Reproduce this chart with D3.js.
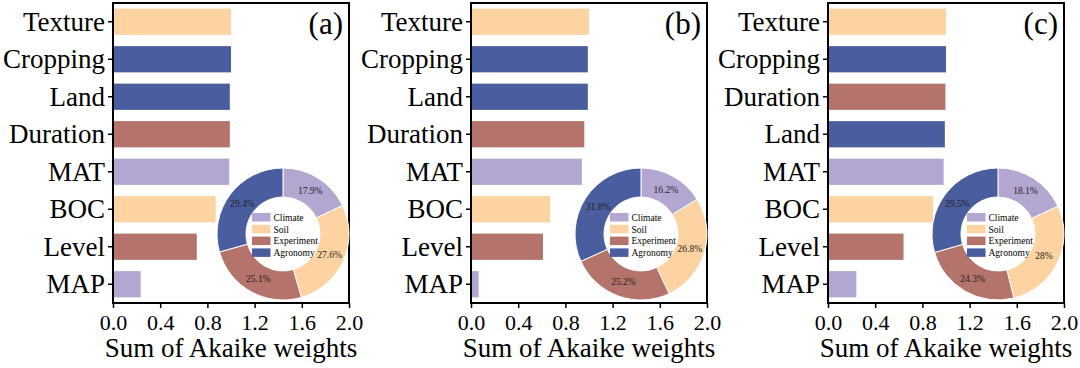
<!DOCTYPE html>
<html>
<head>
<meta charset="utf-8">
<script src="https://cdn.jsdelivr.net/npm/d3@7"></script>
<style>
  body { margin: 0; background: #fff; }
  svg text { font-family: "Liberation Serif", "Times New Roman", Times, "DejaVu Serif", serif; fill: #000; }
</style>
</head>
<body>
<div class="chart"></div>
<script>
var svgWidth = 1080;
var svgHeight = 368;

// bar data per panel (top to bottom)
var varsA = ["Texture", "Cropping", "Land", "Duration", "MAT", "BOC", "Level", "MAP"];
var valsA = [1.0, 1.0, 0.99, 0.99, 0.985, 0.87, 0.71, 0.235];
var varsB = ["Texture", "Cropping", "Land", "Duration", "MAT", "BOC", "Level", "MAP"];
var valsB = [1.0, 0.99, 0.99, 0.96, 0.94, 0.67, 0.61, 0.065];
var varsC = ["Texture", "Cropping", "Duration", "Land", "MAT", "BOC", "Level", "MAP"];
var valsC = [1.0, 1.0, 0.995, 0.99, 0.98, 0.89, 0.64, 0.24];

// which group each variable belongs to
var groupOf = {
    Texture: "Soil", BOC: "Soil",
    Cropping: "Agronomy", Land: "Agronomy",
    Duration: "Experiment", Level: "Experiment",
    MAT: "Climate", MAP: "Climate"
};

// donut shares
var groups = ["Climate", "Soil", "Experiment", "Agronomy"];
var shareA = [17.9, 27.6, 25.1, 29.4];
var shareB = [16.2, 26.8, 25.2, 31.8];
var shareC = [18.1, 28, 24.3, 29.5];

var xTicks = [0, 0.4, 0.8, 1.2, 1.6, 2.0];
var panelTags = ["(a)", "(b)", "(c)"];

var serif = "'Liberation Serif', 'Times New Roman', Times, 'DejaVu Serif', serif";

var colors = d3.scaleOrdinal()
    .domain(groups)
    .range(["#b3a7d2", "#fdd3a2", "#b4736b", "#4a5d9e"]);

var svg = d3.select(".chart")
    .append("svg")
    .attr("width", svgWidth)
    .attr("height", svgHeight)
    .attr("font-family", serif);

var panels = [
    {left: 113, vars: varsA, vals: valsA, share: shareA, tag: panelTags[0]},
    {left: 471, vars: varsB, vals: valsB, share: shareB, tag: panelTags[1]},
    {left: 828, vars: varsC, vals: valsC, share: shareC, tag: panelTags[2]}
];

var boxW = 236, boxH = 300, boxTop = 3;

panels.forEach(function(p) {
    var g = svg.append("g")
        .attr("transform", `translate(${p.left}, ${boxTop})`);

    var x = d3.scaleLinear().domain([0, 2]).range([0, boxW]);
    var y = d3.scaleBand().domain(p.vars).range([0, boxH])
        .paddingInner(0.3).paddingOuter(0.15);

    var rows = p.vars.map((v, i) => ({name: v, value: p.vals[i]}));

    g.selectAll("rect.bar").data(rows)
        .enter()
        .append("rect")
        .attr("class", "bar")
        .attr("x", 0)
        .attr("y", d => y(d.name))
        .attr("width", d => x(d.value))
        .attr("height", y.bandwidth())
        .attr("fill", d => colors(groupOf[d.name]));

    // axes
    var bottomAxis = d3.axisBottom(x).tickValues(xTicks)
        .tickFormat(d3.format(".1f")).tickSize(5).tickSizeOuter(0);
    var leftAxis = d3.axisLeft(y).tickSize(5).tickSizeOuter(0);

    var xa = g.append("g")
        .attr("transform", `translate(0, ${boxH})`)
        .call(bottomAxis)
        .attr("font-family", serif);
    xa.selectAll("text").attr("font-size", 22).attr("dy", null).attr("y", 27);
    xa.selectAll("line").attr("stroke-width", 1.5);
    xa.select(".domain").remove();

    var ya = g.append("g").call(leftAxis)
        .attr("font-family", serif);
    ya.selectAll("text").attr("font-size", 27).attr("x", -8).attr("dy", "0.34em");
    ya.selectAll("line").attr("stroke-width", 1.5);
    ya.select(".domain").remove();

    g.append("rect")
        .attr("width", boxW)
        .attr("height", boxH)
        .attr("fill", "none")
        .attr("stroke", "#000")
        .attr("stroke-width", 2);

    g.append("text")
        .attr("x", boxW / 2)
        .attr("y", boxH + 54)
        .attr("text-anchor", "middle")
        .attr("font-size", 27)
        .text("Sum of Akaike weights");

    g.append("text")
        .attr("x", boxW - 6)
        .attr("y", 31)
        .attr("text-anchor", "end")
        .attr("font-size", 31)
        .text(p.tag);

    // donut inset
    var rOut = 66, rIn = 37;
    var donut = g.append("g")
        .attr("transform", `translate(170, 231)`);

    var pieData = d3.pie().sort(null).value(d => d.v)(
        groups.map((k, i) => ({k: k, v: p.share[i]})));
    var arc = d3.arc().innerRadius(rIn).outerRadius(rOut);
    var labelArc = d3.arc().innerRadius(51).outerRadius(51);

    donut.selectAll("path").data(pieData)
        .enter()
        .append("path")
        .attr("d", arc)
        .attr("fill", d => colors(d.data.k))
        .attr("stroke", "#fff")
        .attr("stroke-width", 1);

    donut.selectAll("text.pct").data(pieData)
        .enter()
        .append("text")
        .attr("class", "pct")
        .attr("transform", d => `translate(${labelArc.centroid(d)})`)
        .attr("text-anchor", "middle")
        .attr("dy", "0.35em")
        .attr("font-size", 9.5)
        .style("fill", "#222")
        .text(d => d.data.v + "%");

    var leg = donut.append("g").attr("transform", "translate(-31, -21)");
    groups.forEach(function(k, i) {
        leg.append("rect")
            .attr("x", 0)
            .attr("y", i * 11.8)
            .attr("width", 18.5)
            .attr("height", 8.5)
            .attr("fill", colors(k));
        leg.append("text")
            .attr("x", 21.5)
            .attr("y", i * 11.8 + 4.5)
            .attr("dy", "0.35em")
            .attr("font-size", 9.5)
            .text(k);
    });
});
</script>
</body>
</html>
